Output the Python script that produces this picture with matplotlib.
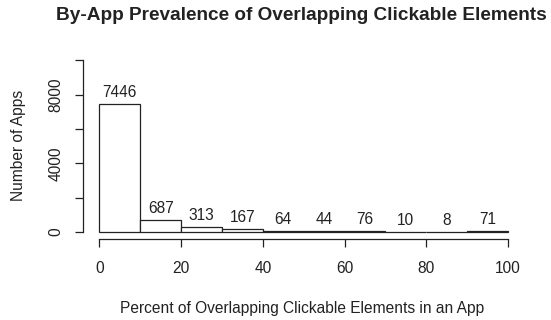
import matplotlib
matplotlib.use("Agg")
import matplotlib.pyplot as plt

plt.rcParams['font.family'] = ['Liberation Sans', 'DejaVu Sans']

bin_edges = [0, 10, 20, 30, 40, 50, 60, 70, 80, 90, 100]
counts = [7446, 687, 313, 167, 64, 44, 76, 10, 8, 71]
x_ticks = [0, 20, 40, 60, 80, 100]
y_ticks = [0, 2000, 4000, 6000, 8000, 10000]
y_tick_labels = ['0', '', '4000', '', '8000', '']

fig = plt.figure(figsize=(5.51, 3.2), dpi=100)
ax = fig.add_axes([0.1506, 0.2534, 0.8011, 0.5791])

widths = [b - a for a, b in zip(bin_edges[:-1], bin_edges[1:])]
ax.bar(bin_edges[:-1], counts, width=widths, align='edge',
       facecolor='white', edgecolor='#222222', linewidth=0.9)

for left, w, c in zip(bin_edges[:-1], widths, counts):
    ax.annotate(str(c), xy=(left + w / 2, c), xytext=(0, 3),
                textcoords='offset points', ha='center', va='bottom',
                fontsize=11.2, color='#222222')

ax.set_xlim(-4, 104)
ax.set_ylim(-400, 10400)

for s in ['top', 'right']:
    ax.spines[s].set_visible(False)
ax.spines['left'].set_bounds(0, 10000)
ax.spines['bottom'].set_bounds(0, 100)
for s in ['left', 'bottom']:
    ax.spines[s].set_linewidth(0.9)
    ax.spines[s].set_color('#222222')

ax.set_xticks(x_ticks)
ax.set_yticks(y_ticks)
ax.set_yticklabels(y_tick_labels, rotation=90, va='center')
ax.tick_params(axis='both', length=6, width=0.9, color='#222222',
               labelsize=11.2, labelcolor='#222222')
ax.tick_params(axis='x', pad=10)
ax.tick_params(axis='y', pad=8)

fig.text(0.034, 0.544, 'Number of Apps', rotation=90, ha='center', va='center',
         fontsize=11.2, color='#222222')
fig.text(0.548, 0.0375, 'Percent of Overlapping Clickable Elements in an App',
         ha='center', va='center', fontsize=11.2, color='#222222')
fig.text(0.547, 0.952, 'By-App Prevalence of Overlapping Clickable Elements',
         ha='center', va='center', fontsize=13.7, fontweight='bold', color='#222222')

fig.savefig('out.png', dpi=100)
